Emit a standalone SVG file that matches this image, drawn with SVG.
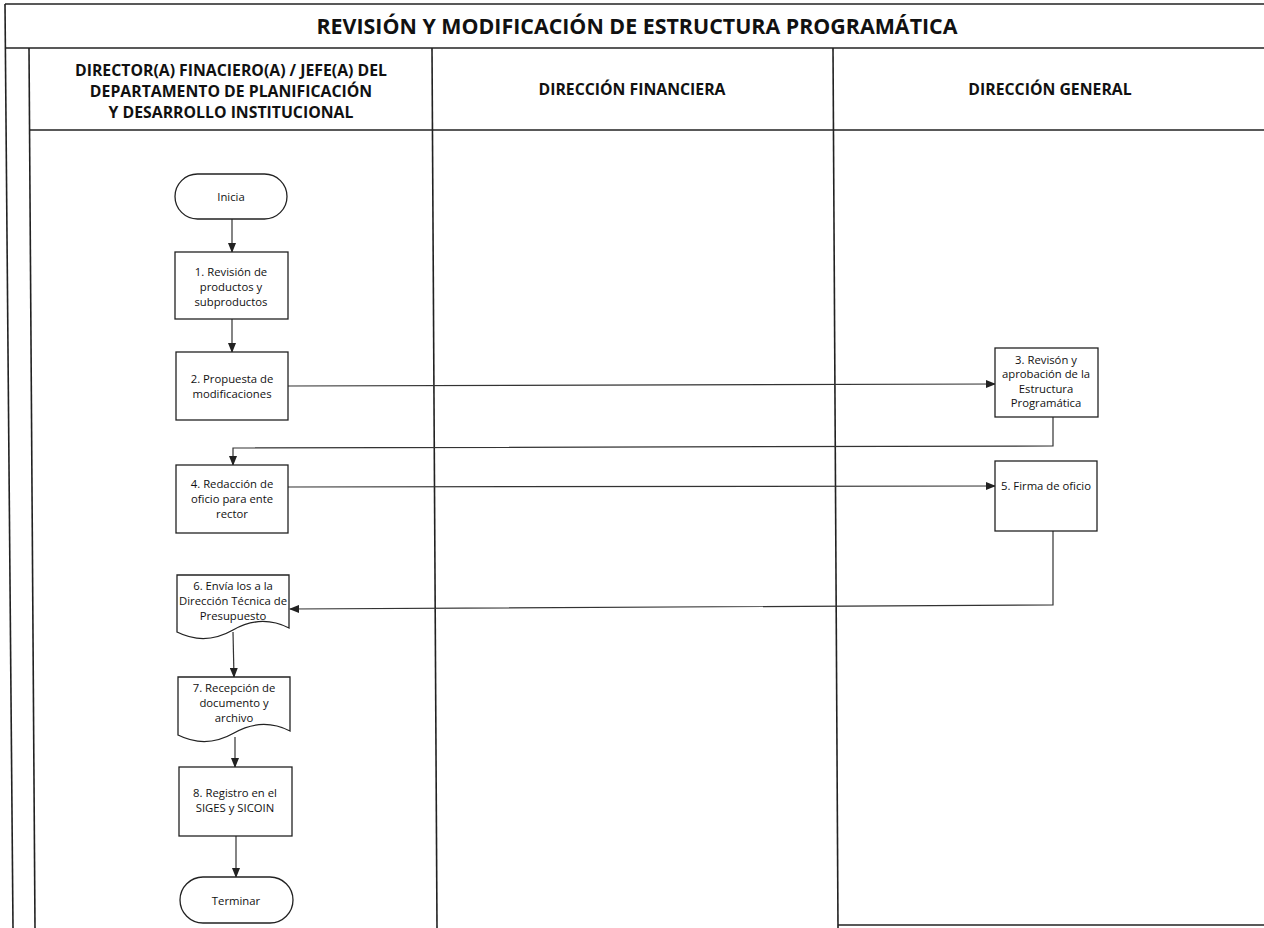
<svg xmlns="http://www.w3.org/2000/svg" width="1264" height="928" viewBox="0 0 1264 928">
<defs>
<marker id="ah" markerWidth="10" markerHeight="8" refX="9" refY="4" orient="auto" markerUnits="userSpaceOnUse">
<path d="M0,0 L10,4 L0,8 Z" fill="#222"/>
</marker>
<style>
.frame{stroke:#222;stroke-width:1.6;fill:none}
.node{fill:#fff;stroke:#222;stroke-width:1.3}
.t{font-family:"Open Sans","Liberation Sans",sans-serif;font-size:11.3px;fill:#111;text-anchor:middle}
.h{font-family:"Open Sans","Liberation Sans",sans-serif;font-size:15.8px;font-weight:bold;fill:#111;text-anchor:middle}
.title{font-family:"Open Sans","Liberation Sans",sans-serif;font-size:21.4px;font-weight:bold;fill:#111;text-anchor:middle}
.c{stroke:#333;stroke-width:1.2;fill:none}
</style>
</defs>
<rect width="1264" height="928" fill="#fff"/>
<g id="frame">
<line class="frame" x1="5" y1="4" x2="1264" y2="4"/>
<line class="frame" x1="5" y1="48" x2="1264" y2="48"/>
<line class="frame" x1="29" y1="130" x2="1264" y2="130"/>
<line class="frame" x1="5" y1="4" x2="13" y2="928"/>
<line class="frame" x1="29" y1="48" x2="35" y2="928"/>
<line class="frame" x1="432" y1="48" x2="437" y2="928"/>
<line class="frame" x1="833" y1="48" x2="838" y2="928"/>
<line class="frame" x1="838" y1="925" x2="1264" y2="925"/>
<text class="title" x="637" y="34">REVISIÓN Y MODIFICACIÓN DE ESTRUCTURA PROGRAMÁTICA</text>
<text class="h" x="231" y="76">DIRECTOR(A) FINACIERO(A) / JEFE(A) DEL</text>
<text class="h" x="231" y="97">DEPARTAMENTO DE PLANIFICACIÓN</text>
<text class="h" x="231" y="118">Y DESARROLLO INSTITUCIONAL</text>
<text class="h" x="632" y="95">DIRECCIÓN FINANCIERA</text>
<text class="h" x="1050" y="95">DIRECCIÓN GENERAL</text>
</g>
<g id="connectors">
<line class="c" x1="232" y1="219" x2="232" y2="252" marker-end="url(#ah)"/>
<line class="c" x1="232" y1="319" x2="232" y2="352" marker-end="url(#ah)"/>
<line class="c" x1="288" y1="386" x2="995" y2="384" marker-end="url(#ah)"/>
<polyline class="c" points="1053,417 1053,446 233,448 233,465" marker-end="url(#ah)"/>
<line class="c" x1="288" y1="487" x2="995" y2="486" marker-end="url(#ah)"/>
<polyline class="c" points="1053,531 1053,605 290,609" marker-end="url(#ah)"/>
<line class="c" x1="233" y1="632" x2="234" y2="677" marker-end="url(#ah)"/>
<line class="c" x1="235" y1="737" x2="235" y2="767" marker-end="url(#ah)"/>
<line class="c" x1="236" y1="836" x2="236" y2="877" marker-end="url(#ah)"/>
</g>
<g id="n0">
<rect class="node" x="175" y="174" width="112" height="45" rx="22.5"/>
<text class="t" x="231" y="201">Inicia</text>
</g>
<g id="n1">
<rect class="node" x="175" y="252" width="113" height="67"/>
<text class="t" x="231" y="276">1. Revisión de</text>
<text class="t" x="231" y="291">productos y</text>
<text class="t" x="231" y="306">subproductos</text>
</g>
<g id="n2">
<rect class="node" x="176" y="352" width="112" height="68"/>
<text class="t" x="232" y="383">2. Propuesta de</text>
<text class="t" x="232" y="398">modificaciones</text>
</g>
<g id="n3">
<rect class="node" x="995" y="348" width="103" height="69"/>
<text class="t" x="1046" y="364">3. Revisón y</text>
<text class="t" x="1046" y="378">aprobación de la</text>
<text class="t" x="1046" y="393">Estructura</text>
<text class="t" x="1046" y="407">Programática</text>
</g>
<g id="n4">
<rect class="node" x="176" y="465" width="112" height="68"/>
<text class="t" x="232" y="488">4. Redacción de</text>
<text class="t" x="232" y="503">oficio para ente</text>
<text class="t" x="232" y="518">rector</text>
</g>
<g id="n5">
<rect class="node" x="995" y="461" width="102" height="70"/>
<text class="t" x="1046" y="490">5. Firma de oficio</text>
</g>
<g id="n6">
<path class="node" d="M177,575 H289 V628 Q261,614 233,630 Q205,646 177,632 Z"/>
<text class="t" x="233" y="590">6. Envía los  a la</text>
<text class="t" x="233" y="605">Dirección Técnica de</text>
<text class="t" x="233" y="620">Presupuesto</text>
</g>
<g id="n7">
<path class="node" d="M178,677 H290 V731 Q262,717 234,733 Q206,749 178,735 Z"/>
<text class="t" x="234" y="692">7. Recepción de</text>
<text class="t" x="234" y="707">documento y</text>
<text class="t" x="234" y="722">archivo</text>
</g>
<g id="n8">
<rect class="node" x="179" y="767" width="113" height="69"/>
<text class="t" x="235" y="797">8. Registro en el</text>
<text class="t" x="235" y="812">SIGES y SICOIN</text>
</g>
<g id="n9">
<rect class="node" x="180" y="877" width="113" height="46" rx="23"/>
<text class="t" x="236" y="905">Terminar</text>
</g>
</svg>
